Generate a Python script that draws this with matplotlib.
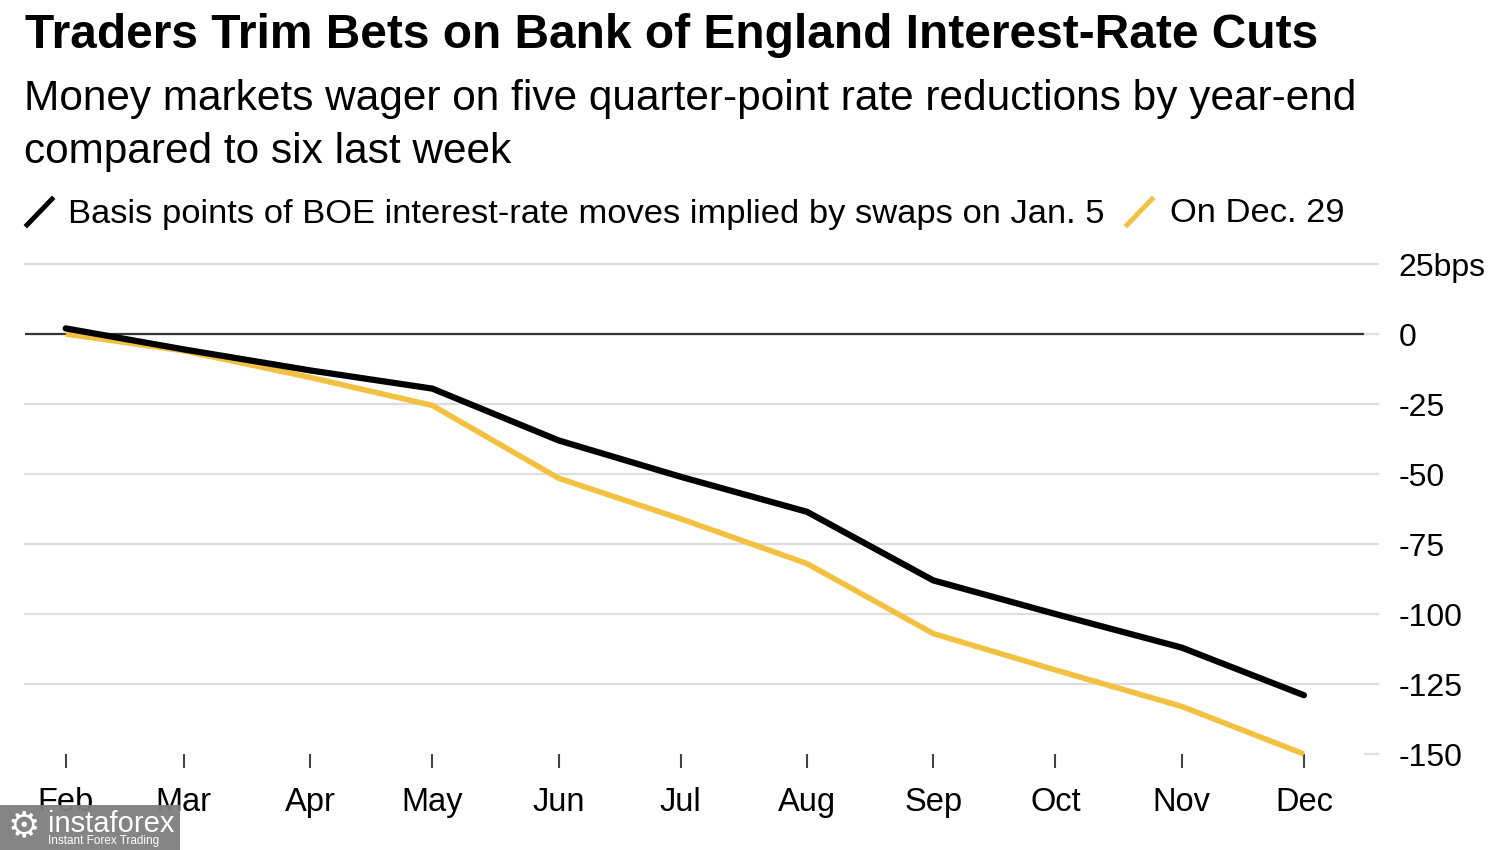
import datetime as dt
import matplotlib.pyplot as plt
from matplotlib.patches import Rectangle

plt.rcParams['font.family'] = ['Liberation Sans', 'DejaVu Sans']

# data (bps of BOE moves implied by swaps, month starts 2024)
months = [dt.date(2024, m, 1) for m in range(2, 13)]
month_labels = ['Feb', 'Mar', 'Apr', 'May', 'Jun', 'Jul', 'Aug', 'Sep', 'Oct', 'Nov', 'Dec']
jan5 = [2, -5.5, -13, -19.5, -38, -51, -63.5, -88, -100, -112, -129]
dec29 = [0, -6, -15.5, -25.5, -51.5, -66, -82, -107, -120, -133, -150]
yticks = [25, 0, -25, -50, -75, -100, -125, -150]
ytick_labels = ['25bps', '0', '-25', '-50', '-75', '-100', '-125', '-150']

title = 'Traders Trim Bets on Bank of England Interest-Rate Cuts'
sub1 = 'Money markets wager on five quarter-point rate reductions by year-end'
sub2 = 'compared to six last week'
leg1 = 'Basis points of BOE interest-rate moves implied by swaps on Jan. 5'
leg2 = 'On Dec. 29'

black = '#000000'
yellow = '#F3C141'
grid = '#dddddd'

W, H = 1500, 850
fig = plt.figure(figsize=(15, 8.5), dpi=100)
ax = fig.add_axes([25 / W, (H - 754) / H, 1340 / W, 490 / H])

ax.set_xlim(dt.date(2024, 1, 22), dt.date(2024, 12, 16))
ax.set_ylim(-150, 25)

# gridlines (the -150 one only shows as a dash at the right)
ytr = ax.get_yaxis_transform()
for v in yticks:
    if v == 0:
        ax.axhline(0, color='#333333', lw=1.6, zorder=2)
        ax.plot([1.0, 1.01], [v, v], transform=ytr, color=grid, lw=1.6, clip_on=False)
    elif v == -150:
        ax.plot([1.0, 1.01], [v, v], transform=ytr, color=grid, lw=1.6, clip_on=False)
    else:
        ax.plot([0, 1.01], [v, v], transform=ytr, color=grid, lw=1.6, clip_on=False, zorder=1)

ax.plot(months, dec29, color=yellow, lw=4.0, solid_capstyle='butt', zorder=3, clip_on=False)
ax.plot(months, jan5, color=black, lw=4.5, solid_capstyle='round', zorder=4, clip_on=False)

for s in ax.spines.values():
    s.set_visible(False)

ax.set_xticks(months)
ax.set_xticklabels(month_labels)
ax.tick_params(axis='x', direction='out', length=10, width=1.5, color='#444444',
               labelsize=23.5, pad=14)
ax.yaxis.tick_right()
ax.set_yticks(yticks)
ax.set_yticklabels(ytick_labels)
ax.tick_params(axis='y', length=0, labelsize=23, pad=24)
for lbl in ax.get_yticklabels():
    lbl.set_horizontalalignment('left')

# titles
fig.text(25 / W, 1 - 35 / H, title, fontsize=34.5, fontweight='bold', va='center', ha='left')
fig.text(24 / W, 1 - 99 / H, sub1, fontsize=30.5, va='center', ha='left')
fig.text(24 / W, 1 - 152 / H, sub2, fontsize=30.5, va='center', ha='left')

# legend
ly = 1 - 214 / H
fig.add_artist(plt.Line2D([27 / W, 52 / W], [1 - 225 / H, 1 - 199 / H], color=black, lw=3.5))
fig.text(68 / W, ly, leg1, fontsize=24.8, va='center', ha='left')
fig.add_artist(plt.Line2D([1127 / W, 1152 / W], [1 - 225 / H, 1 - 199 / H], color=yellow, lw=3.5))
fig.text(1170 / W, ly, leg2, fontsize=24.8, va='center', ha='left')

# watermark
fig.add_artist(Rectangle((0, 0), 180 / W, 45 / H, transform=fig.transFigure,
                         facecolor='#7f7f7f', edgecolor='none', alpha=0.95, zorder=10))
fig.text(48 / W, 1 - 824 / H, 'instaforex', fontsize=21, color='white', va='center',
         ha='left', zorder=11)
fig.text(48 / W, 1 - 841 / H, 'Instant Forex Trading', fontsize=8.5, color='white',
         va='center', ha='left', zorder=11)
fig.text(8 / W, 1 - 826 / H, '\u2699', fontsize=26, color='white', va='center',
         ha='left', zorder=11, family='DejaVu Sans')

fig.savefig('out.png', dpi=100)
